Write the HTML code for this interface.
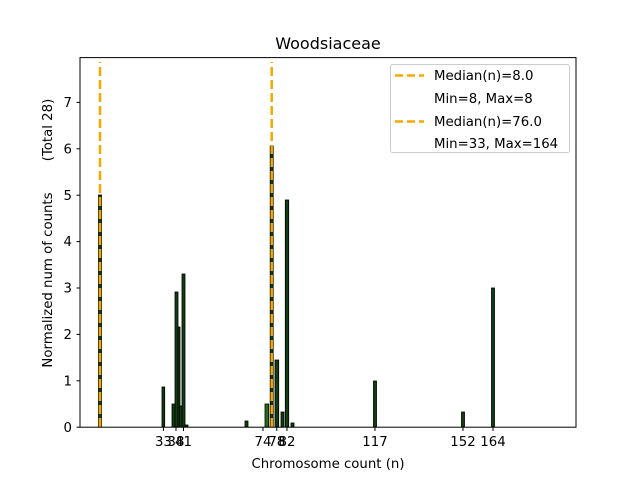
<!DOCTYPE html>
<html><head><style>body{margin:0;background:#fff}svg{display:block}</style></head><body>
<svg width="640" height="480" xmlns="http://www.w3.org/2000/svg" font-family="DejaVu Sans, Liberation Sans, sans-serif">
<rect width="640" height="480" fill="#fff"/>
<g fill="#123d12" stroke="#000" stroke-width="0.8">
<rect x="98.5" y="195" width="3" height="232"/>
<rect x="162" y="387" width="2.7" height="40"/>
<rect x="172" y="404" width="3" height="23"/>
<rect x="175" y="292" width="3" height="135"/>
<rect x="178" y="327" width="2" height="100"/>
<rect x="179.5" y="406" width="2.5" height="21"/>
<rect x="182" y="274" width="3" height="153"/>
<rect x="185" y="425" width="3" height="2"/>
<rect x="245" y="421" width="3" height="6"/>
<rect x="265" y="404" width="3.7" height="23" fill="#2a6a1a"/>
<rect x="270.2" y="146" width="3" height="281"/>
<rect x="275" y="360" width="3.7" height="67"/>
<rect x="281" y="412" width="3" height="15"/>
<rect x="285.3" y="200" width="3.4" height="227"/>
<rect x="291" y="423" width="3" height="4"/>
<rect x="373.5" y="381" width="3" height="46"/>
<rect x="461.5" y="412" width="3" height="15"/>
<rect x="491.5" y="288" width="3" height="139"/>
</g>
<g stroke-width="2.5" stroke="#f5a800" stroke-dasharray="9 4">
<line x1="100" y1="427" x2="100" y2="62"/>
<line x1="271.7" y1="427" x2="271.7" y2="62"/>
</g>
<rect x="80" y="57.6" width="496" height="369.6" fill="none" stroke="#000" stroke-width="1"/>
<g stroke="#000" stroke-width="1">
<line x1="80" y1="427.2" x2="76.5" y2="427.2"/><line x1="80" y1="380.8" x2="76.5" y2="380.8"/>
<line x1="80" y1="334.4" x2="76.5" y2="334.4"/><line x1="80" y1="288" x2="76.5" y2="288"/>
<line x1="80" y1="241.6" x2="76.5" y2="241.6"/><line x1="80" y1="195.2" x2="76.5" y2="195.2"/>
<line x1="80" y1="148.8" x2="76.5" y2="148.8"/><line x1="80" y1="102.4" x2="76.5" y2="102.4"/>
<line x1="163.4" y1="427" x2="163.4" y2="431"/><line x1="176" y1="427" x2="176" y2="431"/>
<line x1="183.5" y1="427" x2="183.5" y2="431"/><line x1="263" y1="427" x2="263" y2="431"/>
<line x1="276.8" y1="427" x2="276.8" y2="431"/><line x1="287" y1="427" x2="287" y2="431"/>
<line x1="375" y1="427" x2="375" y2="431"/><line x1="463" y1="427" x2="463" y2="431"/>
<line x1="493" y1="427" x2="493" y2="431"/>
</g>
<g font-size="13.3" text-anchor="end">
<text x="72" y="432">0</text><text x="72" y="385.5">1</text><text x="72" y="339">2</text>
<text x="72" y="292.5">3</text><text x="72" y="246">4</text><text x="72" y="200">5</text>
<text x="72" y="153.5">6</text><text x="72" y="107">7</text>
</g>
<g font-size="13.3" text-anchor="middle">
<text x="163.4" y="446">33</text><text x="176" y="446">38</text><text x="183.5" y="446">41</text>
<text x="263" y="446">74</text><text x="276.8" y="446">78</text><text x="287" y="446">82</text>
<text x="375" y="446">117</text><text x="463" y="446">152</text><text x="493" y="446">164</text>
<text x="328" y="468">Chromosome count (n)</text>
<text x="328" y="49" font-size="16">Woodsiaceae</text>
</g>
<text font-size="13.3" text-anchor="middle" transform="translate(52,280) rotate(-90)">Normalized num of counts</text>
<text font-size="13.3" text-anchor="middle" transform="translate(52,130) rotate(-90)">(Total 28)</text>
<rect x="390.5" y="64.5" width="179" height="88" rx="2" fill="#fff" stroke="#ccc"/>
<g stroke="#f5a800" stroke-width="2.5" stroke-dasharray="8 4">
<line x1="395" y1="75.5" x2="424" y2="75.5"/><line x1="395" y1="121.5" x2="424" y2="121.5"/>
</g>
<g font-size="13.3">
<text x="434" y="80">Median(n)=8.0</text><text x="434" y="103">Min=8, Max=8</text>
<text x="434" y="126">Median(n)=76.0</text><text x="434" y="148">Min=33, Max=164</text>
</g>
</svg>
</body></html>
